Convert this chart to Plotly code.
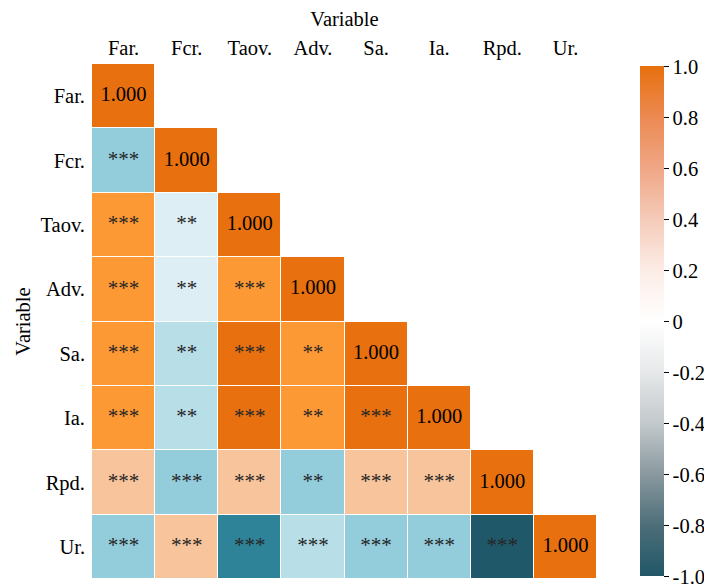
import plotly.graph_objects as go

variables = ["Far.", "Fcr.", "Taov.", "Adv.", "Sa.", "Ia.", "Rpd.", "Ur."]

# Lower-triangle correlation estimates (row-wise, from Far. to the diagonal)
row_far = [1.0]
row_fcr = [-0.40, 1.0]
row_taov = [0.70, -0.10, 1.0]
row_adv = [0.70, -0.10, 0.70, 1.0]
row_sa = [0.70, -0.20, 0.88, 0.70, 1.0]
row_ia = [0.70, -0.20, 0.88, 0.70, 0.90, 1.0]
row_rpd = [0.35, -0.40, 0.35, -0.40, 0.35, 0.35, 1.0]
row_ur = [-0.40, 0.35, -0.65, -0.20, -0.40, -0.40, -0.85, 1.0]

sig_fcr = ["***"]
sig_taov = ["***", "**"]
sig_adv = ["***", "**", "***"]
sig_sa = ["***", "**", "***", "**"]
sig_ia = ["***", "**", "***", "**", "***"]
sig_rpd = ["***", "***", "***", "**", "***", "***"]
sig_ur = ["***", "***", "***", "***", "***", "***", "***"]

rows = [row_far, row_fcr, row_taov, row_adv, row_sa, row_ia, row_rpd, row_ur]
sigs = [[], sig_fcr, sig_taov, sig_adv, sig_sa, sig_ia, sig_rpd, sig_ur]

n = len(variables)
z = [[None] * n for _ in range(n)]
for i, r in enumerate(rows):
    for j, v in enumerate(r):
        z[i][j] = v

# binned cell palette
cell_scale = [
    [0.0, "#1f5868"], [0.1, "#1f5868"],
    [0.1, "#2e8399"], [0.25, "#2e8399"],
    [0.25, "#93cddb"], [0.35, "#93cddb"],
    [0.35, "#b8dee8"], [0.425, "#b8dee8"],
    [0.425, "#ddeff4"], [0.5, "#ddeff4"],
    [0.5, "#f8c49c"], [0.75, "#f8c49c"],
    [0.75, "#fd9934"], [0.9, "#fd9934"],
    [0.9, "#e8700e"], [1.0, "#e8700e"],
]

bar_scale = [
    [0.0, "#215767"], [0.1, "#4d6e79"], [0.2, "#8a999f"], [0.3, "#c3c9cc"],
    [0.4, "#e6e8e9"], [0.5, "#ffffff"], [0.6, "#fcece6"], [0.7, "#f5cbb9"],
    [0.8, "#f0a685"], [0.9, "#ec8a52"], [1.0, "#e8700e"],
]

font_family = "Liberation Serif"
fs = 20.5

fig = go.Figure()
fig.add_trace(go.Heatmap(
    z=z, x=variables, y=variables, colorscale=cell_scale, zmin=-1, zmax=1,
    showscale=False, xgap=1, ygap=1, hoverongaps=False,
))

diag_x = [variables[i] for i in range(n)]
fig.add_trace(go.Scatter(
    x=diag_x, y=diag_x, mode="text", text=["%.3f" % rows[i][i] for i in range(n)],
    textfont=dict(family=font_family, size=20.5, color="#000000"), showlegend=False,
    hoverinfo="skip",
))

sx, sy, st = [], [], []
for i, s in enumerate(sigs):
    for j, t in enumerate(s):
        sx.append(variables[j]); sy.append(variables[i]); st.append(t)
fig.add_trace(go.Scatter(
    x=sx, y=sy, mode="text", text=st,
    textfont=dict(family=font_family, size=21, color="#262626"), showlegend=False,
    hoverinfo="skip",
))

tick_vals = [1.0, 0.8, 0.6, 0.4, 0.2, 0.0, -0.2, -0.4, -0.6, -0.8, -1.0]
tick_text = ["1.0", "0.8", "0.6", "0.4", "0.2", "0", "-0.2", "-0.4", "-0.6", "-0.8", "-1.0"]

fig.add_trace(go.Scatter(
    x=[None], y=[None], mode="markers", showlegend=False, hoverinfo="skip",
    marker=dict(color=[0], cmin=-1.0001, cmax=1.0001, colorscale=bar_scale, showscale=True,
                colorbar=dict(
                    x=1.083, xanchor="left", xpad=0, y=0.5, yanchor="middle",
                    lenmode="pixels", len=510, thicknessmode="pixels", thickness=24,
                    outlinewidth=0, tickvals=tick_vals, ticktext=tick_text,
                    ticks="outside", ticklen=5, tickcolor="#000", tickwidth=1,
                    tickfont=dict(family=font_family, size=fs, color="#000"),
                    ticklabeloverflow="allow",
                    ypad=0,
                )),
))

fig.update_layout(
    width=704, height=579,
    margin=dict(l=84, r=114, t=56, b=8),
    plot_bgcolor="white", paper_bgcolor="white",
    font=dict(family=font_family, size=fs, color="#000"),
    xaxis=dict(side="top", showgrid=False, zeroline=False, showline=False,
               ticks="", ticklabelstandoff=4,
               title=dict(text="Variable", standoff=6, font=dict(size=fs)),
               tickfont=dict(size=fs), categoryorder="array", categoryarray=variables),
    yaxis=dict(autorange="reversed", showgrid=False, zeroline=False, showline=False,
               ticks="", ticklabelstandoff=6,
               title=dict(text="Variable", standoff=4, font=dict(size=fs)),
               tickfont=dict(size=fs), categoryorder="array", categoryarray=variables),
)

fig.write_html("out.html")
